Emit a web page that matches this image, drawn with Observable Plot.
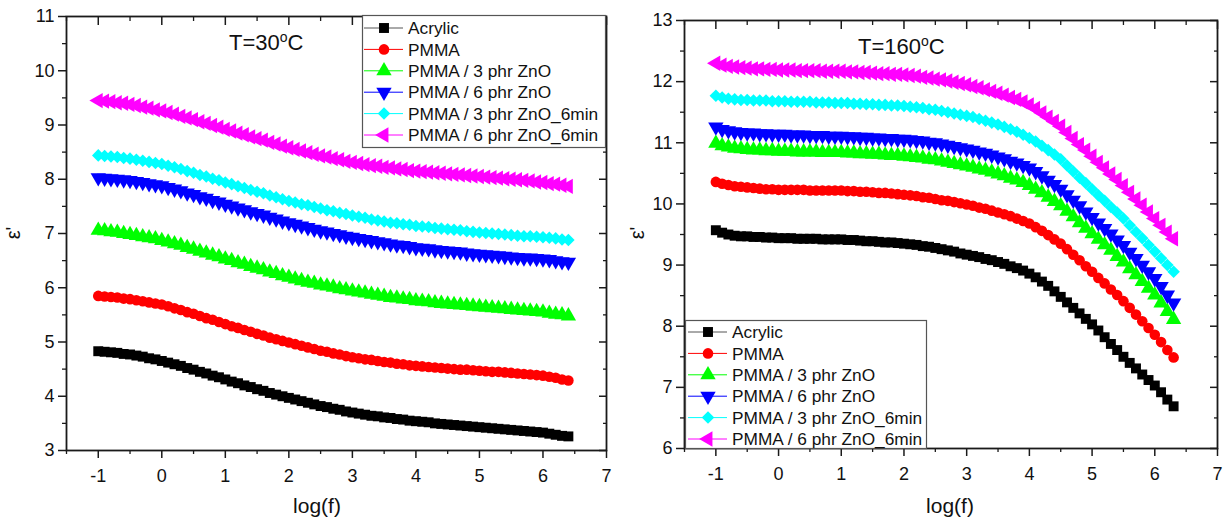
<!DOCTYPE html>
<html><head><meta charset="utf-8">
<script src="https://cdn.jsdelivr.net/npm/d3@7"></script>
<script src="https://cdn.jsdelivr.net/npm/@observablehq/plot@0.6"></script>
<style>
body{margin:0;background:#fff;font-family:"Liberation Sans",Arial,sans-serif;}
#wrap{position:relative;width:1227px;height:524px;overflow:hidden;background:#fff;}
#wrap > svg{position:absolute;}
</style></head><body><div id="wrap"></div>
<script>
// ---------- data ----------
const seriesNames = ["Acrylic","PMMA","PMMA / 3 phr ZnO","PMMA / 6 phr ZnO","PMMA / 3 phr ZnO_6min","PMMA / 6 phr ZnO_6min"];
const seriesColors = ["#000000","#ff0000","#00ff00","#0000ff","#00ffff","#ff00ff"];

const xTicks = [-1,0,1,2,3,4,5,6,7];
const xMinorTicks = [-1.5,-0.5,0.5,1.5,2.5,3.5,4.5,5.5,6.5];
const yTicks30 = [3,4,5,6,7,8,9,10,11];
const yMinor30 = [3.5,4.5,5.5,6.5,7.5,8.5,9.5,10.5];
const yTicks160 = [6,7,8,9,10,11,12,13];
const yMinor160 = [6.5,7.5,8.5,9.5,10.5,11.5,12.5];

const logf30 = [-1,-0.9,-0.8,-0.7,-0.6,-0.5,-0.4,-0.3,-0.2,-0.1,0,0.1,0.2,0.3,0.4,0.5,0.6,0.7,0.8,0.9,1,1.1,1.2,1.3,1.4,1.5,1.6,1.7,1.8,1.9,2,2.1,2.2,2.3,2.4,2.5,2.6,2.7,2.8,2.9,3,3.1,3.2,3.3,3.4,3.5,3.6,3.7,3.8,3.9,4,4.1,4.2,4.3,4.4,4.5,4.6,4.7,4.8,4.9,5,5.1,5.2,5.3,5.4,5.5,5.6,5.7,5.8,5.9,6,6.1,6.2,6.3,6.4];
const logf160 = [-1,-0.9,-0.8,-0.7,-0.6,-0.5,-0.4,-0.3,-0.2,-0.1,0,0.1,0.2,0.3,0.4,0.5,0.6,0.7,0.8,0.9,1,1.1,1.2,1.3,1.4,1.5,1.6,1.7,1.8,1.9,2,2.1,2.2,2.3,2.4,2.5,2.6,2.7,2.8,2.9,3,3.1,3.2,3.3,3.4,3.5,3.6,3.7,3.8,3.9,4,4.1,4.2,4.3,4.4,4.5,4.6,4.7,4.8,4.9,5,5.1,5.2,5.3,5.4,5.5,5.6,5.7,5.8,5.9,6,6.1,6.2,6.3];

// T = 30 °C
const acrylic30 = [4.83,4.82,4.81,4.80,4.78,4.77,4.75,4.73,4.70,4.68,4.65,4.62,4.59,4.56,4.52,4.49,4.45,4.42,4.38,4.35,4.31,4.27,4.24,4.20,4.17,4.13,4.10,4.06,4.03,4.00,3.97,3.94,3.91,3.88,3.85,3.82,3.80,3.77,3.75,3.72,3.70,3.68,3.66,3.64,3.63,3.61,3.60,3.58,3.57,3.55,3.54,3.53,3.52,3.50,3.49,3.48,3.47,3.46,3.45,3.44,3.43,3.42,3.41,3.40,3.39,3.38,3.37,3.36,3.35,3.34,3.33,3.31,3.29,3.27,3.26];
const pmma30 = [5.85,5.84,5.83,5.82,5.80,5.79,5.77,5.75,5.73,5.71,5.69,5.66,5.62,5.59,5.55,5.52,5.48,5.44,5.41,5.37,5.33,5.29,5.26,5.22,5.19,5.15,5.12,5.08,5.05,5.02,4.99,4.96,4.93,4.90,4.87,4.84,4.82,4.79,4.77,4.74,4.72,4.70,4.68,4.67,4.65,4.63,4.62,4.60,4.59,4.57,4.56,4.55,4.54,4.53,4.52,4.51,4.50,4.49,4.49,4.48,4.47,4.46,4.45,4.45,4.44,4.43,4.42,4.41,4.40,4.39,4.38,4.36,4.34,4.31,4.29];
const zno3_30 = [7.06,7.05,7.03,7.02,7.00,6.98,6.96,6.94,6.92,6.90,6.87,6.84,6.81,6.78,6.74,6.71,6.67,6.64,6.60,6.57,6.53,6.50,6.46,6.43,6.39,6.36,6.33,6.29,6.26,6.22,6.19,6.16,6.13,6.10,6.08,6.05,6.03,6.01,5.98,5.96,5.94,5.92,5.90,5.88,5.86,5.84,5.82,5.81,5.79,5.78,5.76,5.75,5.74,5.72,5.71,5.70,5.69,5.68,5.67,5.66,5.65,5.64,5.63,5.62,5.61,5.60,5.59,5.58,5.57,5.56,5.55,5.53,5.51,5.50,5.48];
const zno6_30 = [8.03,8.02,8.01,8.00,7.99,7.98,7.96,7.94,7.92,7.90,7.88,7.85,7.82,7.79,7.75,7.72,7.68,7.65,7.61,7.58,7.54,7.51,7.47,7.44,7.40,7.37,7.34,7.30,7.27,7.23,7.20,7.17,7.14,7.11,7.08,7.05,7.03,7.00,6.98,6.95,6.93,6.91,6.89,6.87,6.85,6.83,6.81,6.79,6.78,6.76,6.74,6.73,6.72,6.70,6.69,6.68,6.67,6.66,6.64,6.63,6.62,6.61,6.60,6.59,6.58,6.57,6.56,6.55,6.55,6.54,6.53,6.52,6.50,6.48,6.47];
const zno3m_30 = [8.44,8.43,8.42,8.41,8.39,8.38,8.36,8.34,8.32,8.30,8.28,8.25,8.22,8.19,8.15,8.12,8.08,8.05,8.01,7.98,7.94,7.91,7.87,7.84,7.80,7.77,7.74,7.70,7.67,7.63,7.60,7.57,7.54,7.52,7.49,7.46,7.43,7.41,7.38,7.36,7.33,7.31,7.29,7.26,7.24,7.22,7.20,7.19,7.17,7.16,7.14,7.13,7.12,7.10,7.09,7.08,7.07,7.06,7.04,7.03,7.02,7.01,7.00,6.99,6.98,6.97,6.96,6.95,6.95,6.94,6.93,6.92,6.91,6.89,6.88];
const zno6m_30 = [9.45,9.44,9.43,9.41,9.40,9.38,9.36,9.33,9.31,9.28,9.26,9.23,9.20,9.16,9.13,9.10,9.06,9.03,8.99,8.96,8.92,8.89,8.85,8.82,8.78,8.75,8.72,8.68,8.65,8.61,8.58,8.55,8.52,8.49,8.46,8.43,8.41,8.38,8.36,8.33,8.31,8.29,8.27,8.25,8.24,8.22,8.21,8.19,8.18,8.16,8.15,8.14,8.13,8.12,8.11,8.10,8.09,8.08,8.07,8.06,8.05,8.04,8.03,8.02,8.01,8.00,7.99,7.98,7.97,7.95,7.94,7.92,7.91,7.89,7.87];

// T = 160 °C
const acrylic160 = [9.57,9.53,9.50,9.48,9.47,9.47,9.46,9.46,9.45,9.45,9.44,9.44,9.44,9.43,9.43,9.43,9.43,9.42,9.42,9.42,9.42,9.41,9.41,9.40,9.39,9.39,9.38,9.37,9.37,9.36,9.35,9.34,9.33,9.31,9.30,9.28,9.26,9.24,9.22,9.19,9.17,9.15,9.13,9.10,9.08,9.05,9.02,8.98,8.95,8.91,8.86,8.80,8.73,8.66,8.57,8.48,8.39,8.30,8.21,8.12,8.03,7.93,7.82,7.71,7.61,7.50,7.40,7.31,7.21,7.12,7.03,6.92,6.80,6.69];
const pmma160 = [10.36,10.33,10.31,10.29,10.28,10.27,10.26,10.25,10.24,10.24,10.23,10.23,10.23,10.23,10.23,10.22,10.22,10.22,10.22,10.22,10.22,10.21,10.21,10.20,10.20,10.19,10.18,10.18,10.17,10.16,10.15,10.14,10.13,10.11,10.10,10.08,10.06,10.05,10.03,10.01,9.99,9.97,9.94,9.92,9.89,9.86,9.83,9.80,9.76,9.72,9.68,9.62,9.56,9.49,9.42,9.35,9.26,9.17,9.08,8.98,8.89,8.79,8.70,8.60,8.51,8.41,8.30,8.19,8.08,7.97,7.86,7.74,7.61,7.49];
const zno3_160 = [10.99,10.95,10.93,10.91,10.90,10.89,10.88,10.88,10.87,10.87,10.86,10.86,10.86,10.85,10.85,10.85,10.85,10.84,10.84,10.84,10.84,10.83,10.83,10.82,10.82,10.81,10.81,10.80,10.79,10.79,10.78,10.77,10.76,10.75,10.73,10.72,10.70,10.68,10.66,10.64,10.62,10.60,10.57,10.55,10.52,10.49,10.46,10.42,10.39,10.35,10.30,10.24,10.18,10.11,10.04,9.97,9.88,9.79,9.69,9.60,9.51,9.42,9.33,9.24,9.14,9.05,8.94,8.84,8.73,8.62,8.51,8.38,8.24,8.11];
const zno6_160 = [11.26,11.22,11.20,11.18,11.17,11.16,11.16,11.15,11.15,11.14,11.14,11.14,11.13,11.13,11.13,11.12,11.12,11.12,11.11,11.11,11.11,11.10,11.10,11.09,11.09,11.08,11.08,11.07,11.07,11.06,11.06,11.05,11.04,11.03,11.01,11.00,10.98,10.96,10.94,10.92,10.90,10.88,10.85,10.83,10.80,10.77,10.74,10.70,10.67,10.63,10.59,10.53,10.46,10.39,10.32,10.24,10.15,10.06,9.97,9.87,9.78,9.69,9.60,9.51,9.41,9.32,9.21,9.11,9.00,8.89,8.78,8.65,8.51,8.38];
const zno3m_160 = [11.77,11.74,11.72,11.71,11.70,11.70,11.69,11.69,11.69,11.68,11.68,11.68,11.67,11.67,11.67,11.67,11.66,11.66,11.66,11.65,11.65,11.65,11.64,11.64,11.63,11.63,11.62,11.62,11.61,11.61,11.60,11.59,11.58,11.57,11.55,11.54,11.52,11.50,11.48,11.46,11.44,11.42,11.39,11.36,11.33,11.30,11.26,11.22,11.18,11.13,11.08,11.02,10.95,10.88,10.81,10.73,10.63,10.53,10.43,10.34,10.24,10.14,10.05,9.95,9.86,9.76,9.65,9.54,9.44,9.33,9.22,9.11,9.00,8.89];
const zno6m_160 = [12.30,12.27,12.25,12.24,12.23,12.22,12.21,12.21,12.20,12.20,12.19,12.19,12.19,12.18,12.18,12.18,12.18,12.17,12.17,12.17,12.17,12.16,12.16,12.15,12.15,12.14,12.13,12.13,12.12,12.12,12.11,12.10,12.09,12.07,12.06,12.04,12.03,12.01,11.99,11.97,11.95,11.92,11.90,11.87,11.84,11.81,11.78,11.74,11.71,11.67,11.62,11.56,11.49,11.42,11.35,11.27,11.17,11.07,10.97,10.88,10.78,10.68,10.59,10.49,10.40,10.30,10.19,10.08,9.98,9.87,9.76,9.65,9.54,9.43];

// ---------- symbols ----------
const S3 = Math.sqrt(3);
const symSquare = {draw(c, s){ const h = Math.sqrt(s)/2; c.moveTo(-h,-h); c.lineTo(h,-h); c.lineTo(h,h); c.lineTo(-h,h); c.closePath(); }};
const symCircle = {draw(c, s){ const r = Math.sqrt(s/Math.PI); c.moveTo(r,0); c.arc(0,0,r,0,2*Math.PI); }};
const symTriUp = {draw(c, s){ const y = -Math.sqrt(s/(S3*3)); c.moveTo(0,2*y); c.lineTo(-S3*y,-y); c.lineTo(S3*y,-y); c.closePath(); }};
const symTriDown = {draw(c, s){ const y = -Math.sqrt(s/(S3*3)); c.moveTo(0,-2*y); c.lineTo(-S3*y,y); c.lineTo(S3*y,y); c.closePath(); }};
const symDiamond = {draw(c, s){ const h = Math.sqrt(s/2); c.moveTo(0,-h); c.lineTo(h,0); c.lineTo(0,h); c.lineTo(-h,0); c.closePath(); }};
const symTriLeft = {draw(c, s){ const y = -Math.sqrt(s/(S3*3)); c.moveTo(2*y,0); c.lineTo(-y,-S3*y); c.lineTo(-y,S3*y); c.closePath(); }};
const symbols = [symSquare, symCircle, symTriUp, symTriDown, symDiamond, symTriLeft];
const radii = [5.6, 5.3, 5.7, 5.7, 5.0, 5.7];

const FONT = "'Liberation Sans', Arial, sans-serif";
const INK = "#111";

function panel(o) {
  const marks = [];
  const frameColor = "#1a1a1a";
  marks.push(Plot.axisX({ticks: xMinorTicks, tickSize: 4, tickFormat: () => "", label: null, color: frameColor, strokeWidth: 1.3}));
  marks.push(Plot.axisX({ticks: xTicks, tickSize: 8, tickPadding: 11, tickFormat: d => String(d), label: null, fontSize: 18, color: frameColor, fill: INK, strokeWidth: 1.5}));
  marks.push(Plot.axisX({anchor: "top", ticks: xMinorTicks, tickSize: -4, tickFormat: () => "", label: null, color: frameColor, strokeWidth: 1.3}));
  marks.push(Plot.axisX({anchor: "top", ticks: xTicks, tickSize: -8, tickFormat: () => "", label: null, color: frameColor, strokeWidth: 1.5}));
  marks.push(Plot.axisY({ticks: o.yMinor, tickSize: 4, tickFormat: () => "", label: null, color: frameColor, strokeWidth: 1.3}));
  marks.push(Plot.axisY({ticks: o.yTicks, tickSize: 8, tickPadding: 4, tickFormat: d => String(d), label: null, fontSize: 18, color: frameColor, fill: INK, strokeWidth: 1.5}));
  marks.push(Plot.axisY({anchor: "right", ticks: o.yMinor, tickSize: -4, tickFormat: () => "", label: null, color: frameColor, strokeWidth: 1.3}));
  marks.push(Plot.axisY({anchor: "right", ticks: o.yTicks, tickSize: -8, tickFormat: () => "", label: null, color: frameColor, strokeWidth: 1.5}));
  o.ys.forEach((arr, i) => {
    const d = arr.map((v, j) => ({x: o.xs[j], y: v}));
    marks.push(Plot.line(d, {x: "x", y: "y", stroke: seriesColors[i], strokeWidth: 1}));
    marks.push(Plot.dot(d, {x: "x", y: "y", symbol: symbols[i], r: radii[i], fill: seriesColors[i], stroke: "none"}));
  });
  marks.push(Plot.frame({stroke: frameColor, strokeWidth: 1.8}));
  const svg = Plot.plot({
    width: o.width, height: 524,
    marginLeft: o.ml, marginRight: o.mr, marginTop: o.mt, marginBottom: o.mb,
    x: {domain: [-1.5, 7]},
    y: {domain: o.yDomain},
    style: {fontFamily: FONT, fontSize: "18px", background: "transparent", overflow: "visible", color: INK},
    marks
  });
  svg.style.left = o.left + "px";
  svg.style.top = "0px";
  return svg;
}

const wrap = document.getElementById("wrap");
wrap.appendChild(panel({
  xs: logf30, ys: [acrylic30, pmma30, zno3_30, zno6_30, zno3m_30, zno6m_30],
  yDomain: [3, 11], yTicks: yTicks30, yMinor: yMinor30,
  width: 614, left: 0, ml: 66, mr: 8, mt: 16, mb: 74
}));
wrap.appendChild(panel({
  xs: logf160, ys: [acrylic160, pmma160, zno3_160, zno6_160, zno3m_160, zno6m_160],
  yDomain: [6, 13], yTicks: yTicks160, yMinor: yMinor160,
  width: 613, left: 614, ml: 70, mr: 10, mt: 20, mb: 76
}));

// ---------- overlay: titles, axis labels, legends ----------
const ov = d3.select(wrap).append("svg")
  .attr("width", 1227).attr("height", 524)
  .style("left", "0px").style("top", "0px")
  .style("font-family", FONT).style("fill", INK);

function title(x, y, num) {
  const t = ov.append("text").attr("x", x).attr("y", y).attr("font-size", 22);
  t.append("tspan").text("T=" + num);
  t.append("tspan").attr("font-size", 14).attr("dy", -8).text("o");
  t.append("tspan").attr("dy", 8).text("C");
}
title(229, 50, "30");
title(858, 54, "160");

ov.append("text").attr("x", 317).attr("y", 513).attr("text-anchor", "middle").attr("font-size", 21).text("log(f)");
ov.append("text").attr("x", 950).attr("y", 513).attr("text-anchor", "middle").attr("font-size", 21).text("log(f)");
ov.append("text").attr("transform", "translate(20,233) rotate(-90)").attr("text-anchor", "middle").attr("font-size", 20).text("ε'");
ov.append("text").attr("transform", "translate(644,233) rotate(-90)").attr("text-anchor", "middle").attr("font-size", 20).text("ε'");

function legend(x, y, w, h, rowStart, symX, textX) {
  const g = ov.append("g").attr("transform", `translate(${x},${y})`);
  g.append("rect").attr("x", 0.5).attr("y", 0.5).attr("width", w).attr("height", h)
    .attr("fill", "#fff").attr("stroke", "#555").attr("stroke-width", 1.2);
  seriesNames.forEach((name, i) => {
    const cy = rowStart + i * 21.4;
    g.append("line").attr("x1", symX - 20).attr("x2", symX + 19).attr("y1", cy).attr("y2", cy)
      .attr("stroke", i === 0 ? "#555" : seriesColors[i]).attr("stroke-width", 1);
    g.append("path").attr("transform", `translate(${symX},${cy})`)
      .attr("d", d3.symbol(symbols[i], Math.PI * radii[i] * radii[i])())
      .attr("fill", seriesColors[i]);
    g.append("text").attr("x", textX).attr("y", cy).attr("dy", "0.36em")
      .attr("font-size", 17.3).text(name);
  });
}
legend(362, 15, 243, 132, 13, 22, 46);
legend(685, 320, 241, 128, 12, 23, 47);
</script>
</body></html>
